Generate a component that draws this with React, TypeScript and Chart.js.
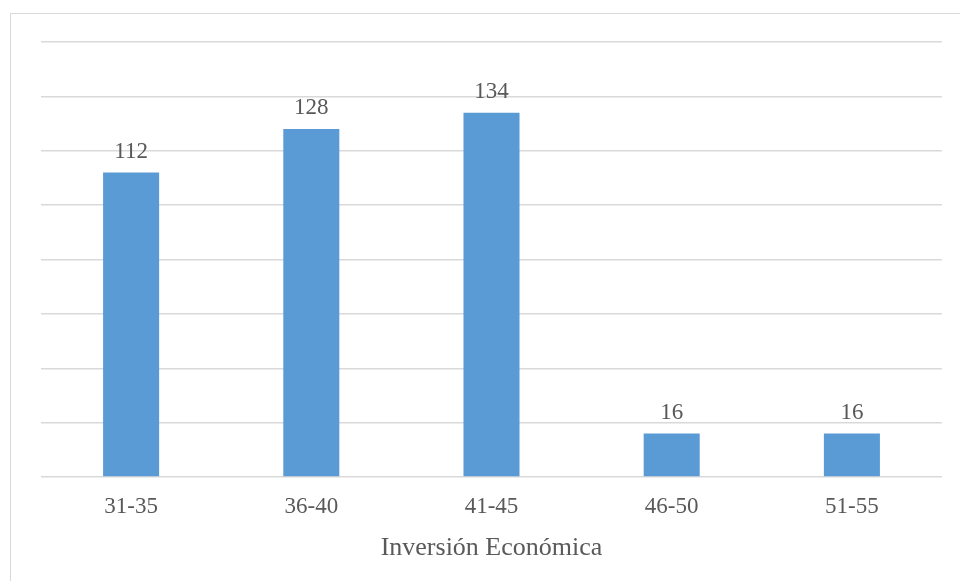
import React, { useEffect, useRef } from "react";
import { Chart, registerables } from "chart.js";

Chart.register(...registerables);

const categories = ["31-35", "36-40", "41-45", "46-50", "51-55"];
const values = [112, 128, 134, 16, 16];
const axisTitle = "Inversión Económica";

const textColor = "#595959";
const fontFamily = "'Liberation Serif', 'Times New Roman', serif";

const valueLabels = {
  id: "valueLabels",
  afterDatasetsDraw(chart: any) {
    const ctx = chart.ctx;
    const meta = chart.getDatasetMeta(0);
    ctx.save();
    ctx.fillStyle = textColor;
    ctx.font = `23px ${fontFamily}`;
    ctx.textAlign = "center";
    ctx.textBaseline = "alphabetic";
    meta.data.forEach((bar: any, i: number) => {
      ctx.fillText(String(values[i]), bar.x, bar.y - 15);
    });
    ctx.restore();
  },
};

export default function App() {
  const ref = useRef<HTMLCanvasElement>(null);
  useEffect(() => {
    if (!ref.current) return;
    const chart = new Chart(ref.current, {
      type: "bar",
      data: {
        labels: categories,
        datasets: [
          {
            data: values,
            backgroundColor: "#5b9bd5",
            borderWidth: 0,
            barPercentage: 1,
            categoryPercentage: 0.311,
          },
        ],
      },
      options: {
        responsive: false,
        animation: false,
        layout: { padding: { left: 41, right: 18, top: 42, bottom: 0 } },
        plugins: { legend: { display: false }, tooltip: { enabled: false } },
        scales: {
          x: {
            grid: { display: false, drawTicks: false },
            border: { display: false },
            ticks: {
              color: textColor,
              font: { family: fontFamily, size: 23 },
              padding: 16,
            },
            title: {
              display: true,
              text: axisTitle,
              color: textColor,
              font: { family: fontFamily, size: 26 },
              padding: { top: 8, bottom: 17 },
            },
            afterFit: (scale: any) => {
              scale.height = 104;
            },
          },
          y: {
            min: 0,
            max: 160,
            ticks: { display: false, stepSize: 20 },
            grid: { color: "#d9d9d9", lineWidth: 1.5, drawTicks: false },
            border: { display: false },
            afterFit: (scale: any) => {
              scale.width = 0;
            },
          },
        },
      },
      plugins: [valueLabels],
    });
    return () => chart.destroy();
  }, []);

  return (
    <div
      style={{
        position: "fixed",
        left: 0,
        top: 0,
        width: 960,
        height: 581,
        overflow: "hidden",
        background: "#ffffff",
      }}
    >
      <div
        style={{
          position: "absolute",
          left: 10,
          top: 13,
          width: 1100,
          height: 1100,
          border: "1.5px solid #d9d9d9",
        }}
      />
      <canvas
        ref={ref}
        width={960}
        height={581}
        style={{ position: "absolute", left: 0, top: 0 }}
      />
    </div>
  );
}
